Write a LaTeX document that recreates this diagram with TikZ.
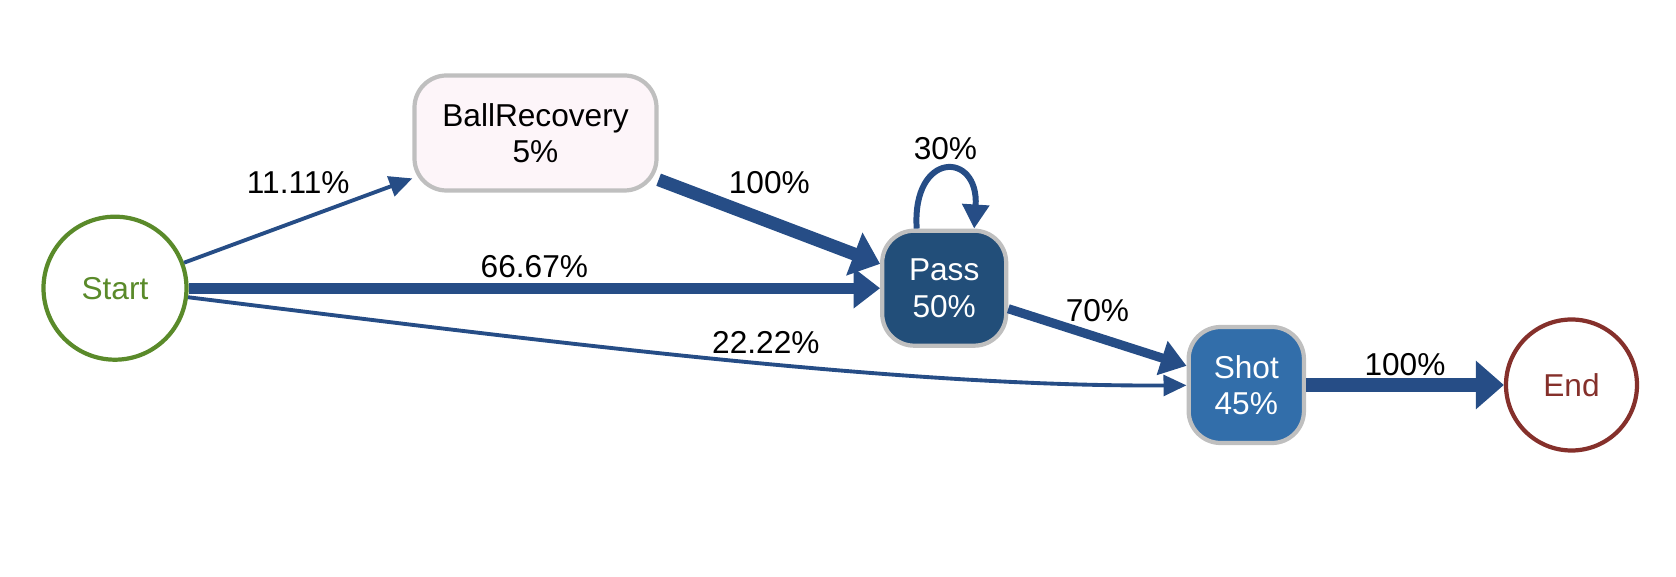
\documentclass[tikz,border=0pt]{standalone}
\usepackage{fontspec}
\setmainfont{Liberation Sans}
\usepackage{color}
\usepackage{tikz}
\usetikzlibrary{arrows.meta}
\definecolor{startgreen}{HTML}{5A8A2A}
\definecolor{endred}{HTML}{85302B}
\definecolor{recfill}{HTML}{FDF5F9}
\definecolor{passfill}{HTML}{224E79}
\definecolor{shotfill}{HTML}{326EAA}
\definecolor{boxgray}{HTML}{BFBFBF}
\definecolor{linkblue}{HTML}{264D86}
\begin{document}
\begin{tikzpicture}[font=\fontsize{9}{10.3}\selectfont,
  terminal/.style={circle, draw, line width=1.2pt, inner sep=0pt},
  state/.style={rectangle, draw=boxgray, line width=1.2pt, rounded corners=0.32cm, align=center},
  link/.style={draw=linkblue, line width=#1, -{Triangle[length=6pt 0.5, width=3pt 2.6]}},
  lbl/.style={inner sep=0pt}]
\useasboundingbox (0,0) rectangle (16.76,5.77) ;
\node[terminal, draw=startgreen, text=startgreen, minimum size=1.43cm] (start) at (1.15,2.888) {Start} ;
\node[state, fill=recfill, minimum width=2.42cm, minimum height=1.15cm] (ballrec) at (5.355,4.44) {BallRecovery\\5\%} ;
\node[state, fill=passfill, text=white, minimum width=1.24cm, minimum height=1.15cm] (pass) at (9.442,2.888) {Pass\\50\%} ;
\node[state, fill=shotfill, text=white, minimum width=1.153cm, minimum height=1.16cm] (shot) at (12.463,1.92) {Shot\\45\%} ;
\node[terminal, draw=endred, text=endred, minimum size=1.31cm] (end) at (15.715,1.92) {End} ;
\draw[link=1.1pt] (start) -- node[lbl, yshift=0.38cm] (l1) {11.11\%} (ballrec) ;
\draw[link=3.1pt] (start) -- node[lbl, yshift=0.214cm] (l2) {66.67\%} (pass) ;
\draw[link=1.1pt] (start) .. controls (5.5,2.35) and (9,1.9) .. (shot) node[lbl, pos=.55, yshift=0.21cm] (l3) {22.22\%} ;
\draw[link=3.7pt] (ballrec) -- node[lbl, yshift=0.39cm] (l5) {100\%} (pass) ;
\draw[link=1.7pt] ([xshift=-0.275cm]pass.north) .. controls +(-0.05,0.78) and +(0.05,0.78) .. ([xshift=0.3cm]pass.north) node[lbl, pos=.5, yshift=0.21cm] (l4) {30\%} ;
\draw[link=2.6pt] (pass) -- node[lbl, yshift=0.27cm] (l6) {70\%} (shot) ;
\draw[link=4pt] (shot) -- node[lbl, yshift=0.205cm] (l7) {100\%} (end) ;
\end{tikzpicture}
\end{document}
